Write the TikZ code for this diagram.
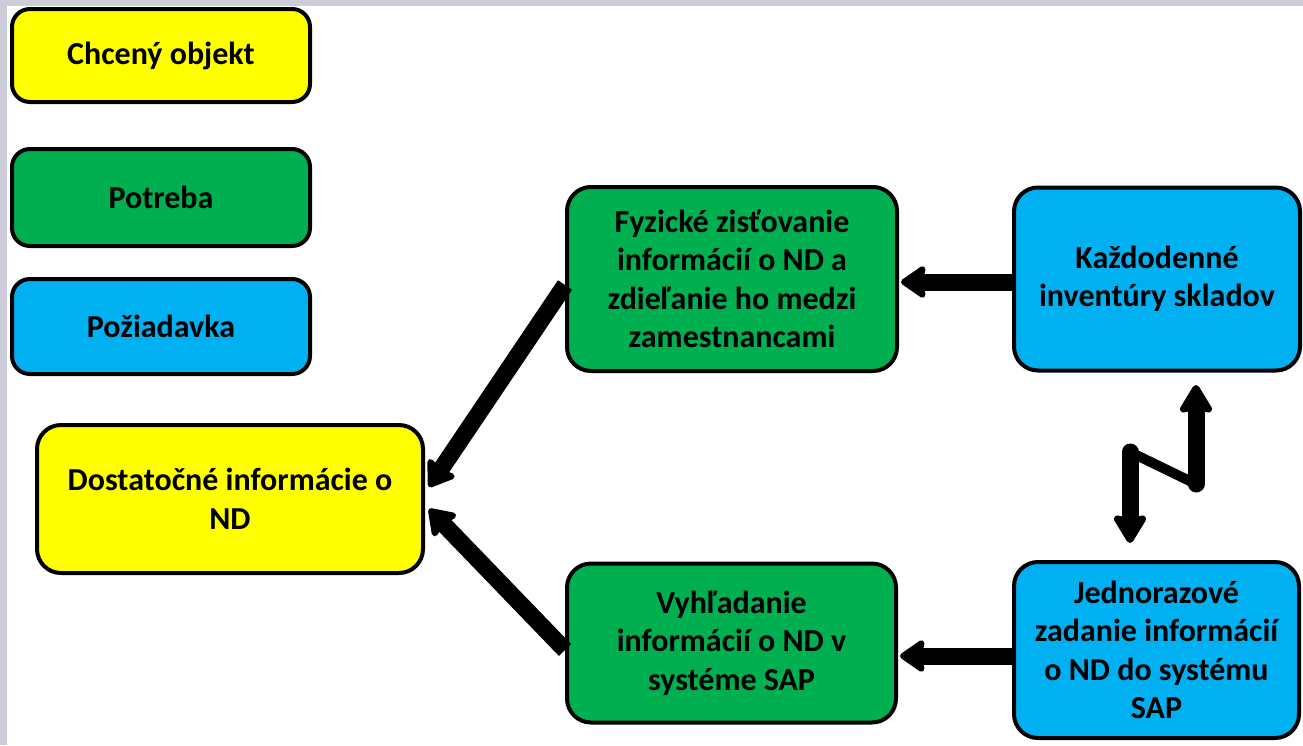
\documentclass[tikz,border=0pt]{standalone}
\usepackage{fontspec}
\setmainfont{Carlito}
\usetikzlibrary{arrows.meta,calc}
\definecolor{cyel}{HTML}{FFFF00}
\definecolor{cgrn}{HTML}{00B050}
\definecolor{cblu}{HTML}{00B0F0}
\definecolor{cfrm}{HTML}{CDCDD9}
\begin{document}
\begin{tikzpicture}[x=1pt,y=-1pt,
  box/.style={draw=black, line width=4pt, rounded corners=24pt, align=center,
    font=\fontsize{32}{38.5}\selectfont\bfseries, inner sep=0pt},
  legend/.style={box, rounded corners=18pt, minimum width=298pt},
  conn/.style={line width=17pt,
    -{Stealth[length=28pt, width=38pt, inset=4pt, round, line width=15pt]}},
  zzv/.style={line width=17pt, line cap=round,
    -{Stealth[length=32pt, width=38pt, inset=4pt, round, line width=14pt]}},
  zzd/.style={line width=10pt, line cap=round}]
\fill[white] (0,0) rectangle (1303,745);
\useasboundingbox (0,0) rectangle (1303,745);
\fill[cfrm] (0,0) rectangle (1303,6);
\fill[cfrm] (0,0) rectangle (7,745);

% legend
\node[legend, fill=cyel, minimum height=93pt] (chc) at (161,55.5) {Chcený objekt};
\node[legend, fill=cgrn, minimum height=97pt] (pot) at (161,197.5) {Potreba};
\node[legend, fill=cblu, minimum height=95pt] (poz) at (161,326.5) {Požiadavka};

% main boxes
\node[box, fill=cyel, minimum width=386pt, minimum height=148pt] (dost) at (230,499)
  {Dostatočné informácie o\\ND};
\node[box, fill=cgrn, minimum width=330pt, minimum height=184pt] (fyz) at (732,279)
  {Fyzické zisťovanie\\informácií o ND a\\zdieľanie ho medzi\\zamestnancami};
\node[box, fill=cblu, minimum width=286pt, minimum height=183pt] (kazd) at (1157,279)
  {Každodenné\\inventúry skladov};
\node[box, fill=cgrn, minimum width=329pt, minimum height=159pt] (vyh) at (731.5,643)
  {Vyhľadanie\\informácií o ND v\\systéme SAP};
\node[box, fill=cblu, minimum width=285pt, minimum height=176pt] (jedn) at (1156.5,650)
  {Jednorazové\\zadanie informácií\\o ND do systému\\SAP};

% connectors
\draw[conn] ($(fyz.west)+(0,6)$) -- ($(dost.east)+(4,-12)$);
\draw[conn] ($(vyh.west)+(0,7)$) -- ($(dost.east)+(4,10)$);
\draw[conn] ($(kazd.west)+(0,3)$) -- ($(fyz.east)+(2,3)$);
\draw[conn] ($(jedn.west)+(0,6)$) -- ($(vyh.east)+(2,13)$);

% zigzag connector between Jednorazové and Každodenné
\coordinate (zb) at (1130,543);
\coordinate (zbk) at (1130,452);
\coordinate (ztk) at (1196,484);
\coordinate (zt) at (1196,385);
\draw[zzd] (zbk) -- (ztk);
\draw[zzv] (zbk) -- (zb);
\draw[zzv] (ztk) -- (zt);
\end{tikzpicture}
\end{document}
